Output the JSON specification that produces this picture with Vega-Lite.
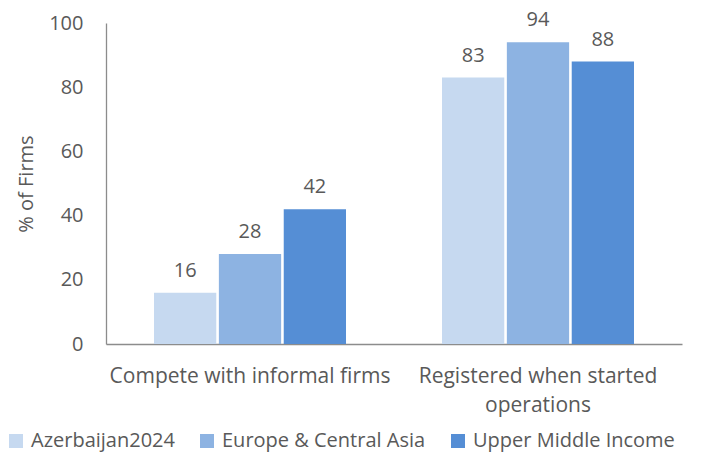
{
  "$schema": "https://vega.github.io/schema/vega-lite/v6.json",
  "width": 576,
  "height": 321,
  "autosize": {"type": "none"},
  "padding": {"left": 106, "top": 23, "right": 19, "bottom": 110},
  "background": "white",
  "config": {
    "view": {"stroke": null},
    "font": "Open Sans",
    "text": {"font": "Open Sans"},
    "legend": {"padding": 0}
  },
  "data": {
    "values": [
      {"category": "Compete with informal firms", "group": "Azerbaijan2024", "value": 16},
      {"category": "Compete with informal firms", "group": "Europe & Central Asia", "value": 28},
      {"category": "Compete with informal firms", "group": "Upper Middle Income", "value": 42},
      {"category": "Registered when started operations", "group": "Azerbaijan2024", "value": 83},
      {"category": "Registered when started operations", "group": "Europe & Central Asia", "value": 94},
      {"category": "Registered when started operations", "group": "Upper Middle Income", "value": 88}
    ]
  },
  "encoding": {
    "x": {
      "field": "category",
      "type": "nominal",
      "sort": null,
      "scale": {"paddingInner": 0.3333, "paddingOuter": 0.1667},
      "axis": {
        "title": null,
        "labelAngle": 0,
        "labelFontSize": 21,
        "labelColor": "#595959",
        "labelFont": "Open Sans",
        "labelLimit": 400,
        "ticks": false,
        "domainColor": "#8c8c8c",
        "domainWidth": 1.3,
        "labelPadding": 21,
        "labelLineHeight": 29,
        "labelExpr": "datum.value == 'Registered when started operations' ? ['Registered when started', 'operations'] : datum.value"
      }
    },
    "xOffset": {
      "field": "group",
      "type": "nominal",
      "sort": ["Azerbaijan2024", "Europe & Central Asia", "Upper Middle Income"],
      "scale": {"paddingInner": 0.04}
    },
    "y": {
      "field": "value",
      "type": "quantitative",
      "scale": {"domain": [0, 100]},
      "axis": {
        "title": "% of Firms",
        "titleFont": "Open Sans",
        "titleFontWeight": "normal",
        "titleFontSize": 20,
        "titleColor": "#595959",
        "titlePadding": 12,
        "values": [0, 20, 40, 60, 80, 100],
        "labelFontSize": 20,
        "labelColor": "#595959",
        "labelFont": "Open Sans",
        "ticks": false,
        "grid": false,
        "labelPadding": 23,
        "domainColor": "#8c8c8c",
        "domainWidth": 1.3
      }
    }
  },
  "layer": [
    {
      "mark": {"type": "bar"},
      "encoding": {
        "color": {
          "field": "group",
          "type": "nominal",
          "sort": ["Azerbaijan2024", "Europe & Central Asia", "Upper Middle Income"],
          "scale": {
            "domain": ["Azerbaijan2024", "Europe & Central Asia", "Upper Middle Income"],
            "range": ["#c6d9f0", "#8db3e2", "#558ed5"]
          },
          "legend": {
            "title": null,
            "orient": "none",
            "direction": "horizontal",
            "legendX": -100,
            "legendY": 408,
            "symbolType": "square",
            "symbolSize": 196,
            "symbolStrokeWidth": 0,
            "labelFontSize": 20,
            "labelColor": "#595959",
            "labelFont": "Open Sans",
            "labelLimit": 400,
            "columnPadding": 22,
            "labelOffset": 5
          }
        }
      }
    },
    {
      "mark": {"type": "text", "baseline": "bottom", "dy": -12, "fontSize": 20, "color": "#595959"},
      "encoding": {
        "text": {"field": "value", "type": "quantitative"}
      }
    }
  ]
}
